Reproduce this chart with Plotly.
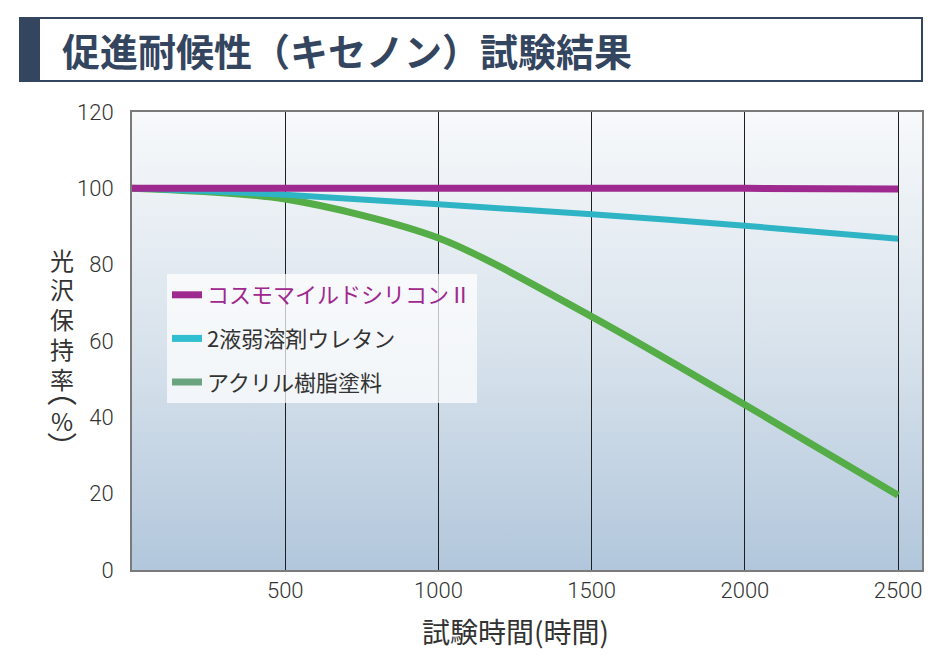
import base64
import plotly.graph_objects as go

# データ
hours = [0, 500, 1000, 1500, 2000, 2500]
cosmo_silicon = [100, 100, 100, 100, 100, 99.8]
urethane = [100, 98.3, 95.8, 93.2, 90.2, 86.8]
acrylic = [100, 97.2, 87.0, 66.4, 43.3, 19.6]

series_names = ["コスモマイルドシリコンⅡ", "2液弱溶剤ウレタン", "アクリル樹脂塗料"]
line_colors = ["#9f2a8f", "#2fb4c5", "#54ad46"]
legend_colors = ["#9f2a8f", "#2fbfd0", "#6aa47e"]
legend_text_colors = ["#a0288f", "#333333", "#333333"]

x_ticks = [500, 1000, 1500, 2000, 2500]
y_ticks = [0, 20, 40, 60, 80, 100, 120]

# 縦書きの軸タイトル: 文字, 参照画像上のy位置, 文字サイズ
y_title_chars = ["光", "沢", "保", "持", "率", "︵", "%", "︶"]
y_title_pos = [259, 288, 318, 348, 378, 389, 420, 445]
y_title_size = [24, 24, 24, 24, 24, 30, 24, 30]

X_MAX = 2578
Y_MAX = 120

CJK = "Noto Sans CJK JP"
NUM = "Roboto, Noto Sans, sans-serif"

# ブラウザの body 余白 (8px) を見込んで図を小さく
OFF = 8

# 背景グラデーション (SVG画像)
svg = (
    '<svg xmlns="http://www.w3.org/2000/svg" width="100" height="100" preserveAspectRatio="none">'
    '<defs><linearGradient id="g" x1="0" y1="0" x2="0" y2="1">'
    '<stop offset="0" stop-color="#f7f9fb"/>'
    '<stop offset="0.5" stop-color="#d9e3ec"/>'
    '<stop offset="1" stop-color="#b2c7dc"/>'
    '</linearGradient></defs>'
    '<rect width="100" height="100" fill="url(#g)"/></svg>'
)
bg_src = "data:image/svg+xml;base64," + base64.b64encode(svg.encode()).decode()

fig = go.Figure()

# 実際の線 (凡例には出さない)
for name, ys, col, w in zip(series_names[::-1], [acrylic, urethane, cosmo_silicon],
                           line_colors[::-1], [7, 6, 7]):
    fig.add_trace(go.Scatter(
        x=hours, y=ys, mode="lines", name=name,
        line=dict(color=col, width=w, shape="spline", smoothing=0.8),
        showlegend=False, hoverinfo="x+y+name"
    ))

# 凡例用ダミー
for i, (name, col, tcol) in enumerate(zip(series_names, legend_colors, legend_text_colors)):
    fig.add_trace(go.Scatter(
        x=[None], y=[None], mode="lines",
        name=f'<span style="color:{tcol}">{name}</span>',
        line=dict(color=col, width=7),
        legendgroup=f"g{i}", showlegend=True
    ))


def px_x(p):
    return (p - 132) / 790


def px_y(p):
    return (570 - p) / 458


fig.update_layout(
    width=944 - OFF, height=656 - OFF,
    margin=dict(l=132 - OFF, r=22, t=112 - OFF, b=86),
    paper_bgcolor="white",
    plot_bgcolor="rgba(0,0,0,0)",
    font=dict(family=CJK, color="#333333"),
    images=[dict(
        source=bg_src, xref="paper", yref="paper", x=0, y=1,
        sizex=1, sizey=1, sizing="stretch", layer="below", xanchor="left", yanchor="top"
    )],
    legend=dict(
        x=px_x(167), y=px_y(274), xanchor="left", yanchor="top",
        bgcolor="rgba(255,255,255,0.72)", borderwidth=0,
        font=dict(family=CJK, size=22, color="#333333"),
        tracegroupgap=12, traceorder="grouped",
        itemwidth=30,
    ),
    showlegend=True,
)

fig.update_xaxes(
    range=[0, X_MAX], tickvals=x_ticks, ticks="",
    showgrid=True, gridcolor="#1e1e1e", gridwidth=1,
    showline=True, linecolor="#7a7a7a", linewidth=2, mirror=True,
    zeroline=False,
    tickfont=dict(family=NUM, size=22, color="#333333", weight=300),
    ticklabelstandoff=0,
)
fig.update_yaxes(
    range=[0, Y_MAX], tickvals=y_ticks, ticks="",
    showgrid=False,
    showline=True, linecolor="#7a7a7a", linewidth=2, mirror=True,
    zeroline=False,
    tickfont=dict(family=NUM, size=22, color="#333333", weight=300),
    ticklabelstandoff=12,
)

# タイトル枠
fig.add_shape(type="rect", xref="paper", yref="paper",
              x0=px_x(20), x1=px_x(922), y0=px_y(81), y1=px_y(18),
              line=dict(color="#34465f", width=2), fillcolor="white", layer="above")
fig.add_shape(type="rect", xref="paper", yref="paper",
              x0=px_x(20), x1=px_x(40), y0=px_y(81), y1=px_y(18),
              line=dict(width=0), fillcolor="#34465f", layer="above")

fig.add_annotation(
    text="<b>促進耐候性（キセノン）試験結果</b>", xref="paper", yref="paper",
    x=px_x(60), y=px_y(49), xanchor="left", yanchor="middle", showarrow=False,
    font=dict(family=CJK, size=38, color="#34465f")
)

# 縦書きの軸タイトル
for ch, py, sz in zip(y_title_chars, y_title_pos, y_title_size):
    fig.add_annotation(
        text=ch, xref="paper", yref="paper",
        x=px_x(62), y=px_y(py), xanchor="center", yanchor="middle", showarrow=False,
        font=dict(family=CJK, size=sz, color="#333333")
    )

fig.add_annotation(
    text="試験時間(時間)", xref="paper", yref="paper",
    x=px_x(515), y=px_y(631), xanchor="center", yanchor="middle", showarrow=False,
    font=dict(family=CJK, size=28, color="#333333")
)

fig.write_html("out.html")
